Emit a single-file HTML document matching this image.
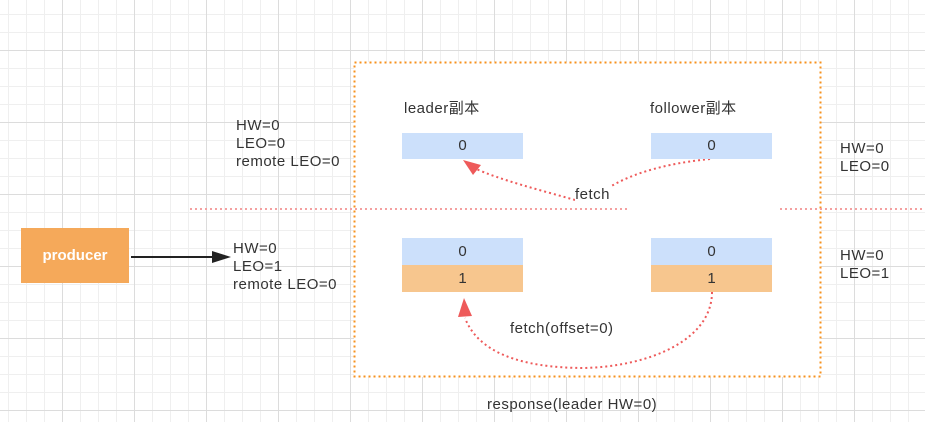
<!DOCTYPE html>
<html><head><meta charset="utf-8"><style>
body{margin:0;width:925px;height:422px;overflow:hidden;background:#fff;font-family:"Liberation Sans","Noto Sans CJK SC",sans-serif;}
.grid{position:absolute;left:0;top:0;width:925px;height:422px;
background-image:
linear-gradient(to right,#dcdcdc 1px,transparent 1px),
linear-gradient(to bottom,#dcdcdc 1px,transparent 1px),
linear-gradient(to right,#efefef 1px,transparent 1px),
linear-gradient(to bottom,#efefef 1px,transparent 1px);
background-size:72px 72px,72px 72px,18px 18px,18px 18px;
background-position:62px 50px,62px 50px,8px 14px,8px 14px;}
.t{position:absolute;font-size:15px;letter-spacing:0.5px;color:#333;line-height:18px;white-space:nowrap}
.b{position:absolute;text-align:center;font-size:15px;color:#333}
</style></head><body>
<div class="grid"></div>
<div style="position:absolute;left:354px;top:62px;width:467px;height:315px;background:#fff"></div>
<svg width="925" height="422" style="position:absolute;left:0;top:0">
<rect x="354.5" y="62.5" width="466" height="314" fill="none" stroke="#f7921e" stroke-width="2" stroke-dasharray="2 3"/>
<line x1="190" y1="209" x2="630" y2="209" stroke="#f4a0a0" stroke-width="2" stroke-dasharray="2 3"/>
<line x1="780" y1="209" x2="925" y2="209" stroke="#f4a0a0" stroke-width="2" stroke-dasharray="2 3"/>
<rect x="21" y="228" width="108" height="55" fill="#f5a95a"/>
<line x1="131" y1="257" x2="215" y2="257" stroke="#222" stroke-width="2"/>
<polygon points="231,257 212,251 212,263" fill="#222"/>
<path d="M710 159 C650 165 620 180 605 190 M575 200 C540 190 500 180 474 168" fill="none" stroke="#ee5a5a" stroke-width="2" stroke-dasharray="2 3"/>
<polygon points="463,160 481,165 473,175" fill="#ee5a5a"/>
<path d="M712 292 C712 340 650 366 585 368 C520 368 478 352 465 318" fill="none" stroke="#ee5a5a" stroke-width="2" stroke-dasharray="2 3"/>
<polygon points="464,298 458,317 472,316" fill="#ee5a5a"/>
</svg>
<div class="b" style="left:21px;top:228px;width:108px;height:55px;line-height:55px;color:#fff;font-weight:bold">producer</div>
<div class="t" style="left:404px;top:100px">leader副本</div>
<div class="t" style="left:650px;top:100px">follower副本</div>
<div class="b" style="left:402px;top:133px;width:121px;height:26px;line-height:26px;background:#cce0fb">0</div>
<div class="b" style="left:651px;top:133px;width:121px;height:26px;line-height:26px;background:#cce0fb">0</div>
<div class="b" style="left:402px;top:238px;width:121px;height:27px;line-height:27px;background:#cce0fb">0</div>
<div class="b" style="left:402px;top:265px;width:121px;height:27px;line-height:27px;background:#f7c68e">1</div>
<div class="b" style="left:651px;top:238px;width:121px;height:27px;line-height:27px;background:#cce0fb">0</div>
<div class="b" style="left:651px;top:265px;width:121px;height:27px;line-height:27px;background:#f7c68e">1</div>
<div class="t" style="left:236px;top:117px">HW=0<br>LEO=0<br>remote LEO=0</div>
<div class="t" style="left:233px;top:240px">HW=0<br>LEO=1<br>remote LEO=0</div>
<div class="t" style="left:840px;top:140px">HW=0<br>LEO=0</div>
<div class="t" style="left:840px;top:247px">HW=0<br>LEO=1</div>
<div class="t" style="left:575px;top:186px;background:#fff">fetch</div>
<div class="t" style="left:510px;top:320px">fetch(offset=0)</div>
<div class="t" style="left:487px;top:396px">response(leader HW=0)</div>
</body></html>
